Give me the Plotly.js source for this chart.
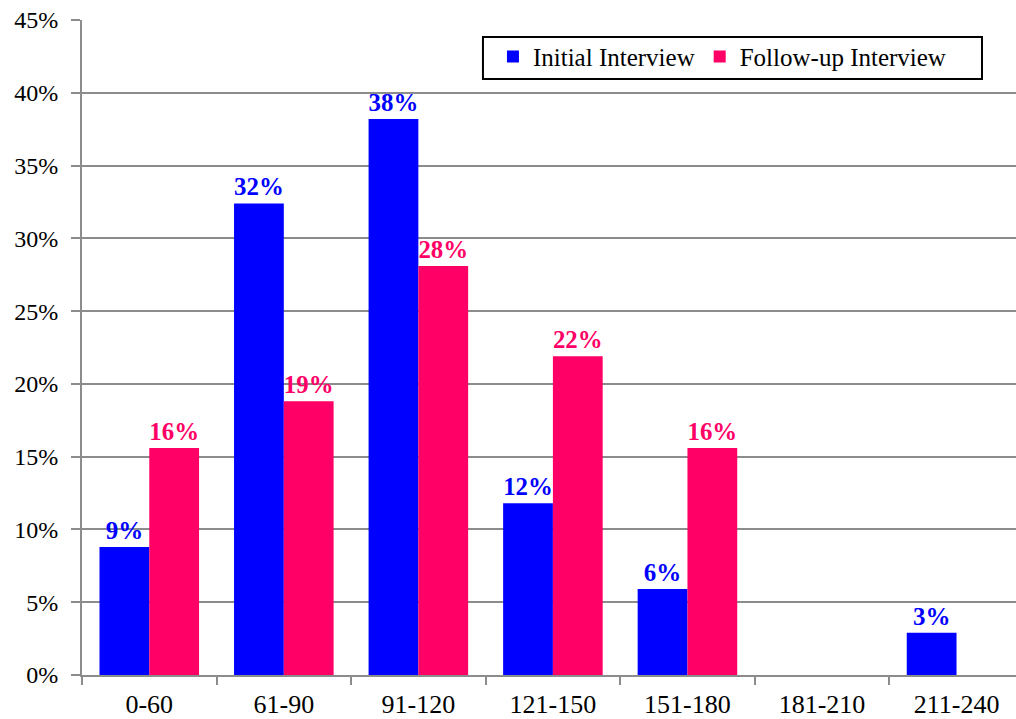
<!DOCTYPE html>
<html>
<head>
<meta charset="utf-8">
<script src="https://cdn.plot.ly/plotly-3.0.1.min.js"></script>
<style>
  html, body { margin: 0; padding: 0; background: #ffffff; overflow: hidden; }
  #chart { width: 1016px; height: 719px; }
</style>
</head>
<body>
<div id="chart"></div>
<script>
// Length-of-interview bands (minutes)
const categories = ['0-60', '61-90', '91-120', '121-150', '151-180', '181-210', '211-240'];

// Share of interviews in each band (%)
const initialInterview  = [8.8, 32.4, 38.2, 11.8, 5.9, 0, 2.9];
const followUpInterview = [15.6, 18.8, 28.1, 21.9, 15.6, 0, 0];

const seriesNames = ['Initial Interview', 'Follow-up Interview'];
const yTicks = [0, 5, 10, 15, 20, 25, 30, 35, 40, 45];

const BLUE = '#0000ff';
const PINK = '#ff0066';
const GRID = '#8c8c8c';
const FONT = 'Liberation Serif, Times New Roman, serif';

// Value labels only for non-empty bars, rounded to whole percent
const labelsFor = vals => vals.map(v => (v > 0 ? Math.round(v) + '%' : ''));

const traces = [
  {
    type: 'bar',
    name: seriesNames[0],
    x: categories,
    y: initialInterview,
    text: labelsFor(initialInterview),
    textposition: 'outside',
    textfont: { family: FONT, size: 25, color: BLUE, weight: 'bold' },
    cliponaxis: false,
    marker: { color: BLUE, line: { width: 0 } },
    hoverinfo: 'x+y'
  },
  {
    type: 'bar',
    name: seriesNames[1],
    x: categories,
    y: followUpInterview,
    text: labelsFor(followUpInterview),
    textposition: 'outside',
    textfont: { family: FONT, size: 25, color: PINK, weight: 'bold' },
    cliponaxis: false,
    marker: { color: PINK, line: { width: 0 } },
    hoverinfo: 'x+y'
  }
];

const layout = {
  width: 1016,
  height: 719,
  margin: { l: 82, r: 0, t: 20, b: 44, pad: 0 },
  paper_bgcolor: '#ffffff',
  plot_bgcolor: '#ffffff',
  font: { family: FONT, color: '#000000', size: 25 },
  barmode: 'group',
  bargap: 0.26,
  bargroupgap: 0,
  showlegend: true,
  legend: {
    orientation: 'h',
    x: 0.44, xanchor: 'left',
    y: 0.979, yanchor: 'top',
    bgcolor: 'rgba(0,0,0,0)',
    borderwidth: 0,
    font: { family: FONT, size: 25, color: '#000000' },
    itemclick: false,
    traceorder: 'normal'
  },
  // frame around the legend
  shapes: [
    {
      type: 'rect',
      xref: 'paper', yref: 'paper',
      x0: 0.4293, x1: 0.9636,
      y0: 0.9099, y1: 0.974,
      line: { color: '#000000', width: 2 },
      fillcolor: '#ffffff',
      layer: 'above'
    }
  ],
  xaxis: {
    type: 'category',
    range: [-0.5, 6.442],
    showgrid: false,
    showline: true,
    linecolor: GRID,
    linewidth: 2,
    ticks: 'outside',
    tickson: 'boundaries',
    ticklen: 8,
    tickwidth: 2,
    tickcolor: GRID,
    tickfont: { family: FONT, size: 26, color: '#000000' },
    ticklabelstandoff: 5,
    zeroline: false,
    fixedrange: true
  },
  yaxis: {
    range: [0, 45],
    tickvals: yTicks,
    ticktext: yTicks.map(v => v + '%'),
    showgrid: true,
    gridcolor: GRID,
    gridwidth: 2,
    showline: true,
    linecolor: GRID,
    linewidth: 2,
    ticks: 'outside',
    ticklen: 9,
    tickwidth: 2,
    tickcolor: GRID,
    tickfont: { family: FONT, size: 24, color: '#000000' },
    ticklabelstandoff: 8,
    zeroline: false,
    fixedrange: true
  }
};

Plotly.newPlot('chart', traces, layout, { displayModeBar: false, staticPlot: true });
</script>
</body>
</html>
